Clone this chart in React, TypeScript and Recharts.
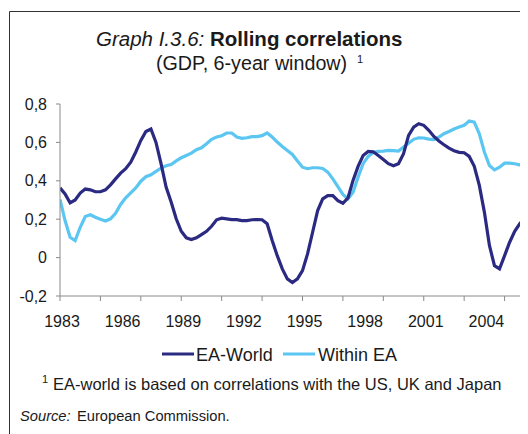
import { LineChart, Line, XAxis, YAxis } from "recharts";

// quarterly observations, first point 1983 Q1
const START_YEAR = 1983;
const STEP = 0.25;

const eaWorld = [
  0.363, 0.332, 0.285, 0.3, 0.336, 0.357, 0.353, 0.343, 0.343, 0.353, 0.379, 0.41,
  0.44, 0.463, 0.497, 0.55, 0.61, 0.657, 0.67, 0.6, 0.489, 0.367, 0.289, 0.202,
  0.137, 0.103, 0.094, 0.103, 0.12, 0.137, 0.163, 0.197, 0.205, 0.202, 0.198, 0.198,
  0.193, 0.193, 0.197, 0.198, 0.197, 0.176, 0.089, 0.01, -0.059, -0.111, -0.13, -0.111,
  -0.068, 0.019, 0.132, 0.245, 0.306, 0.323, 0.323, 0.297, 0.283, 0.311, 0.402, 0.475,
  0.532, 0.553, 0.551, 0.532, 0.511, 0.489, 0.478, 0.489, 0.541, 0.637, 0.68, 0.697,
  0.689, 0.663, 0.631, 0.607, 0.588, 0.57, 0.557, 0.548, 0.546, 0.527, 0.475, 0.376,
  0.237, 0.063, -0.042, -0.059, 0.01, 0.08, 0.137, 0.176, 0.207, 0.225,
];

const withinEa = [
  0.303, 0.193, 0.106, 0.089, 0.158, 0.214, 0.223, 0.21, 0.2, 0.191, 0.202, 0.231,
  0.277, 0.311, 0.337, 0.363, 0.398, 0.421, 0.431, 0.449, 0.466, 0.478, 0.485, 0.504,
  0.52, 0.532, 0.544, 0.562, 0.572, 0.593, 0.616, 0.628, 0.635, 0.649, 0.649, 0.628,
  0.621, 0.624, 0.63, 0.63, 0.635, 0.649, 0.628, 0.602, 0.579, 0.558, 0.537, 0.503,
  0.471, 0.463, 0.468, 0.468, 0.464, 0.445, 0.41, 0.37, 0.329, 0.306, 0.341, 0.419,
  0.489, 0.527, 0.548, 0.553, 0.555, 0.558, 0.557, 0.555, 0.576, 0.596, 0.616, 0.624,
  0.623, 0.617, 0.614, 0.628, 0.645, 0.657, 0.67, 0.68, 0.689, 0.711, 0.706, 0.645,
  0.55, 0.48, 0.457, 0.471, 0.492, 0.492, 0.489, 0.483, 0.478, 0.475,
];

const xTicks = [1983, 1985, 1986, 1987, 1989, 1991, 1992, 1993, 1995, 1997, 1998, 1999, 2001, 2003, 2004, 2005];
const yTicks = [-0.2, 0, 0.2, 0.4, 0.6, 0.8];

const data = eaWorld.map((v, i) => ({
  year: START_YEAR + i * STEP,
  world: v,
  within: withinEa[i],
}));

const DARK = "#2b2a82";
const LIGHT = "#5bc6f1";
const AXIS = "#8a8a8a";
const TEXT = "#1a1a1a";
const FONT = "'Liberation Sans', Arial, sans-serif";

function XTick(props: any) {
  const { x, y, payload } = props;
  const off = payload.value - START_YEAR;
  return (
    <g>
      {off % 2 === 0 && <line x1={x} x2={x} y1={y} y2={y + 5} stroke={AXIS} />}
      {off % 3 === 0 && (
        <text x={x + 2} y={y + 31} textAnchor="middle" fontSize={16} fill={TEXT} fontFamily={FONT}>
          {payload.value}
        </text>
      )}
    </g>
  );
}

const fmtY = (v: number) => (v === 0 ? "0" : v.toFixed(1).replace(".", ","));

export default function App() {
  return (
    <div style={{ position: "relative", width: 520, height: 426, overflow: "hidden", fontFamily: FONT }}>
      <div style={{ position: "absolute", left: 0, top: 0 }}>
        <LineChart width={560} height={340} data={data} margin={{ top: 96, right: 23, bottom: 22, left: 0 }}>
          <XAxis
            dataKey="year"
            type="number"
            domain={[1983, 2007]}
            ticks={xTicks}
            interval={0}
            allowDataOverflow
            tickLine={false}
            tickSize={0}
            tickMargin={0}
            height={30}
            stroke={AXIS}
            tick={<XTick />}
          />
          <YAxis
            type="number"
            domain={[-0.2, 0.8]}
            ticks={yTicks}
            interval={0}
            width={52}
            tickSize={4}
            tickMargin={9}
            stroke={AXIS}
            tickFormatter={fmtY}
            tick={{ fill: TEXT, fontSize: 16, fontFamily: FONT }}
          />
          <Line dataKey="within" stroke={LIGHT} strokeWidth={3.2} dot={false} isAnimationActive={false} />
          <Line dataKey="world" stroke={DARK} strokeWidth={3.2} dot={false} isAnimationActive={false} />
        </LineChart>
      </div>
      <svg
        width={520}
        height={426}
        style={{ position: "absolute", left: 0, top: 0, pointerEvents: "none" }}
        fontFamily={FONT}
        fill={TEXT}
      >
        <path d="M1.5 426 V3.5 H520" stroke="#333" fill="none" />
        <text x={88} y={38} fontSize={20.5}>
          <tspan fontStyle="italic">Graph I.3.6:</tspan>
          <tspan fontWeight="bold"> Rolling correlations</tspan>
        </text>
        <text x={148} y={62} fontSize={19.7}>
          (GDP, 6-year window)
        </text>
        <text x={349} y={55} fontSize={11}>
          1
        </text>

        <line x1={154} x2={186} y1={346} y2={346} stroke={DARK} strokeWidth={3} />
        <text x={188} y={353} fontSize={18}>
          EA-World
        </text>
        <line x1={275} x2={307} y1={346} y2={346} stroke={LIGHT} strokeWidth={3} />
        <text x={310} y={353} fontSize={18}>
          Within EA
        </text>

        <text x={34} y={375} fontSize={11}>
          1
        </text>
        <text x={45} y={382} fontSize={16.5}>
          EA-world is based on correlations with the US, UK and Japan
        </text>

        <text x={12} y={413} fontSize={14.7}>
          <tspan fontStyle="italic">Source:</tspan>
          <tspan x={69}>European Commission.</tspan>
        </text>
      </svg>
    </div>
  );
}
